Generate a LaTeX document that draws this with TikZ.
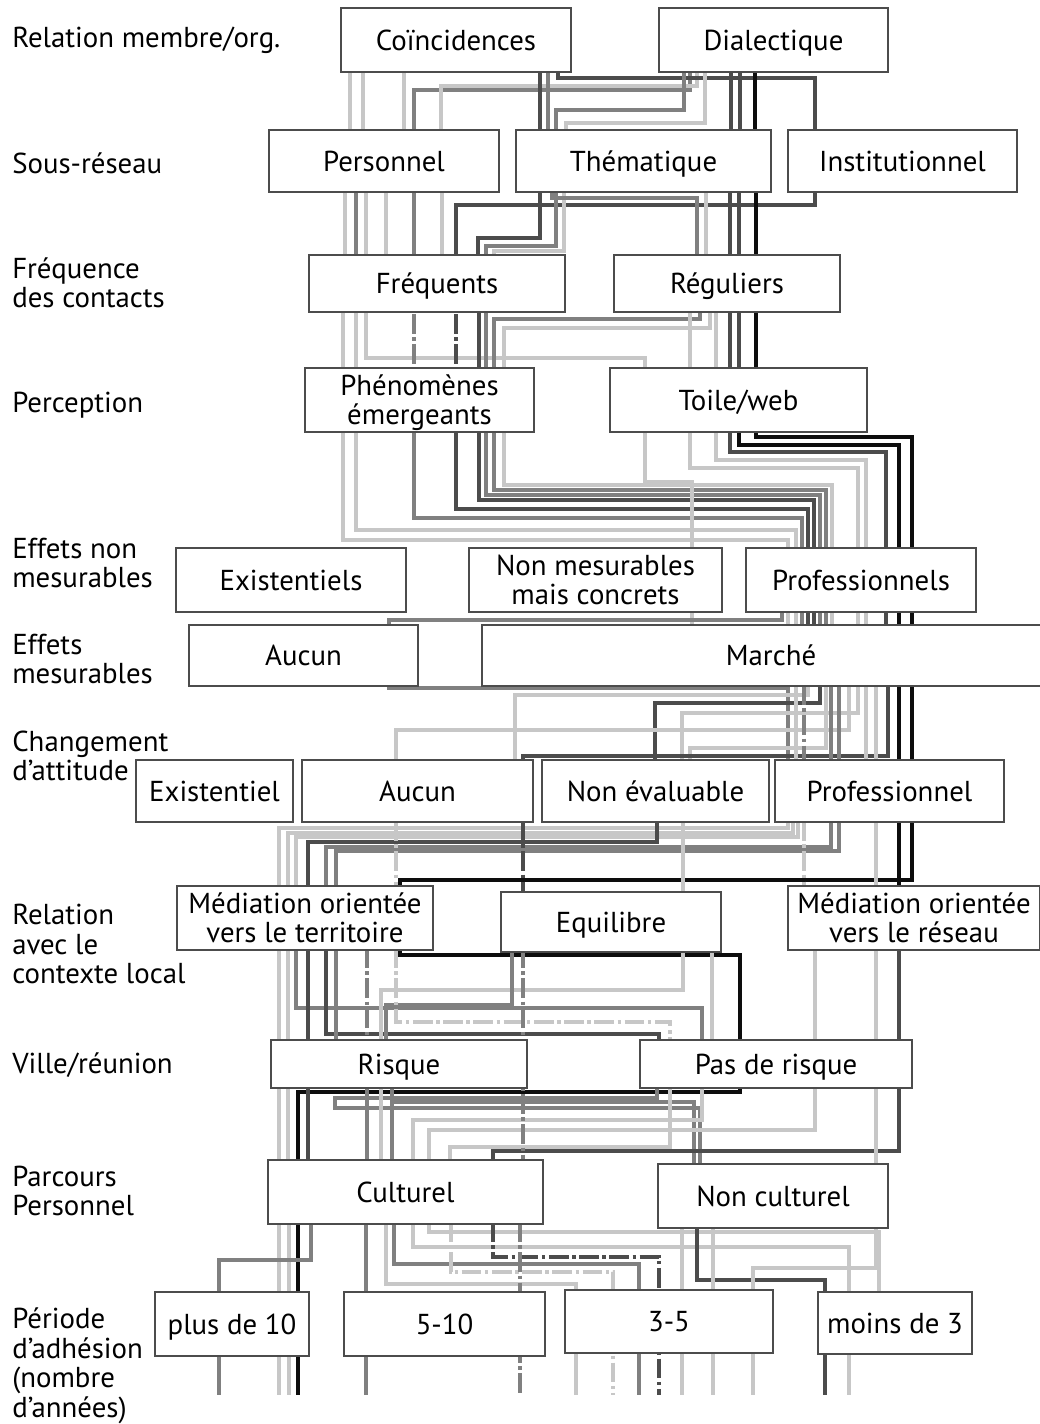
\documentclass[tikz,border=0pt]{standalone}
\usepackage{fontspec}
\setmainfont{PT Sans}
\pgfdeclarelayer{bg}
\pgfdeclarelayer{lines}
\pgfsetlayers{bg,lines,main}

\begin{document}
\begin{tikzpicture}[x=0.025cm, y=-0.025cm,
    cat/.style={draw=black!70, line width=0.9pt, fill=white, inner sep=0pt, align=center,
      font=\fontsize{20.5}{21}\selectfont, text height=16.4pt, text depth=2.05pt},
    two/.style={text height=37.4pt},
    lab/.style={anchor=west, align=left, inner sep=0pt, font=\fontsize{20.5}{21}\selectfont},
    lite/.style={draw=black!22, line width=2.4pt},
    midg/.style={draw=black!50, line width=2.4pt},
    dark/.style={draw=black!70, line width=2.6pt},
    blk/.style={draw=black!95, line width=2.6pt},
    brok/.style={dash pattern=on 14pt off 2.5pt on 2.5pt off 2.5pt}]
  \begin{pgfonlayer}{bg}
    \fill[white] (0,0) rectangle (1039,1424);
  \end{pgfonlayer}
  \useasboundingbox (0,0) rectangle (1039,1424);

  % row titles
  \node[lab] (t-rel) at (12,40) {Relation membre/org.};
  \node[lab] (t-sous) at (12,163) {Sous-réseau};
  \node[lab] (t-freq) at (12,283) {Fréquence\\des contacts};
  \node[lab] (t-perc) at (12,405) {Perception};
  \node[lab] (t-enm) at (12,563) {Effets non\\mesurables};
  \node[lab] (t-em) at (12,659) {Effets\\mesurables};
  \node[lab] (t-chg) at (12,756) {Changement\\d'attitude};
  \node[lab] (t-ctx) at (12,944) {Relation\\avec le\\contexte local};
  \node[lab] (t-ville) at (12,1065) {Ville/réunion};
  \node[lab] (t-parc) at (12,1191) {Parcours\\Personnel};
  \node[lab] (t-per) at (12,1366) {Période\\d'adhésion\\(nombre\\d'années)};

  % boxes
  \node[cat, minimum width=5.75cm, minimum height=1.6cm] (coinc) at (456,40) {Coïncidences};
  \node[cat, minimum width=5.725cm, minimum height=1.6cm] (dial) at (773.5,40) {Dialectique};
  \node[cat, minimum width=5.75cm, minimum height=1.55cm] (pers) at (384,161) {Personnel};
  \node[cat, minimum width=6.375cm, minimum height=1.55cm] (them) at (643.5,161) {Thématique};
  \node[cat, minimum width=5.725cm, minimum height=1.55cm] (inst) at (902.5,161) {Institutionnel};
  \node[cat, minimum width=6.4cm, minimum height=1.425cm] (freq) at (437,283.5) {Fréquents};
  \node[cat, minimum width=5.65cm, minimum height=1.425cm] (regu) at (727,283.5) {Réguliers};
  \node[cat, two, minimum width=5.725cm, minimum height=1.6cm] (phen) at (419.5,400) {Phénomènes\\émergeants};
  \node[cat, minimum width=6.425cm, minimum height=1.6cm] (toile) at (738.5,400) {Toile/web};
  \node[cat, minimum width=5.75cm, minimum height=1.6cm] (exis) at (291,580) {Existentiels};
  \node[cat, two, minimum width=6.325cm, minimum height=1.6cm] (nonmes) at (595.5,580) {Non mesurables\\mais concrets};
  \node[cat, minimum width=5.75cm, minimum height=1.6cm] (prof) at (861,580) {Professionnels};
  \node[cat, minimum width=5.725cm, minimum height=1.525cm] (aucun) at (303.5,655.5) {Aucun};
  \node[cat, minimum width=14.45cm, minimum height=1.525cm] (marche) at (771,655.5) {Marché};
  \node[cat, minimum width=3.925cm, minimum height=1.55cm] (exist) at (214.5,791) {Existentiel};
  \node[cat, minimum width=5.775cm, minimum height=1.55cm] (aucunb) at (417.5,791) {Aucun};
  \node[cat, minimum width=5.675cm, minimum height=1.55cm] (noneval) at (655.5,791) {Non évaluable};
  \node[cat, minimum width=5.725cm, minimum height=1.55cm] (profl) at (889.5,791) {Professionnel};
  \node[cat, two, minimum width=6.4cm, minimum height=1.6cm] (medter) at (305,918) {Médiation orientée\\vers le territoire};
  \node[cat, minimum width=5.5cm, minimum height=1.5cm] (equil) at (611,922) {Equilibre};
  \node[cat, two, minimum width=6.3cm, minimum height=1.6cm] (medres) at (914,918) {Médiation orientée\\vers le réseau};
  \node[cat, minimum width=6.4cm, minimum height=1.2cm] (risque) at (399,1064) {Risque};
  \node[cat, minimum width=6.8cm, minimum height=1.2cm] (pasrisque) at (776,1064) {Pas de risque};
  \node[cat, minimum width=6.875cm, minimum height=1.6cm] (cult) at (405.5,1192) {Culturel};
  \node[cat, minimum width=5.75cm, minimum height=1.6cm] (noncult) at (773,1196) {Non culturel};
  \node[cat, minimum width=3.85cm, minimum height=1.6cm] (plus10) at (232,1324) {plus de 10};
  \node[cat, minimum width=5.025cm, minimum height=1.6cm] (p510) at (444.5,1324) {5-10};
  \node[cat, minimum width=5.2cm, minimum height=1.575cm] (p35) at (669,1321.5) {3-5};
  \node[cat, minimum width=3.85cm, minimum height=1.55cm] (moins3) at (895,1323) {moins de 3};

  \begin{pgfonlayer}{lines}
    % relation -> sous-reseau
    \draw[lite] (350,40) -- (350,161);
    \draw[lite] (363,40) -- (363,161);
    \draw[lite] (404,40) -- (404,161);
    \draw[midg] (690,40) |- (414,90) -- (414,161);
    \draw[lite] (697,40) |- (441,86) -- (441,161);
    \draw[dark] (540,40) -- (540,161);
    \draw[midg] (548,40) -- (548,161);
    \draw[dark] (558,40) |- (815,78) -- (815,161);
    \draw[midg] (684,40) |- (556,110) -- (556,161);
    \draw[lite] (705,40) |- (566,123) -- (566,161);
    \draw[dark] (731,40) -- (731,161);
    \draw[dark] (740,40) -- (740,161);
    \draw[blk] (755,40) -- (755,161);
    % sous-reseau -> frequence
    \draw[lite] (345,161) -- (345,284);
    \draw[midg] (356,161) -- (356,284);
    \draw[lite] (366,161) -- (366,284);
    \draw[lite] (386,161) -- (386,284);
    \draw[midg] (414,161) -- (414,284);
    \draw[lite] (442,161) -- (442,284);
    \draw[dark] (815,161) |- (456,205) -- (456,284);
    \draw[dark] (540,161) |- (478,238) -- (478,284);
    \draw[midg] (556,161) |- (486,246) -- (486,284);
    \draw[lite] (564,161) |- (494,251) -- (494,284);
    \draw[midg] (552,161) |- (697,198) -- (697,284);
    \draw[lite] (706,161) -- (706,284);
    \draw[dark] (730,161) -- (730,284);
    \draw[dark] (739,161) -- (739,284);
    \draw[blk] (756,161) -- (756,284);
    % frequence -> perception
    \draw[lite] (343,284) -- (343,400);
    \draw[lite] (356,284) -- (356,400);
    \draw[lite] (366,284) |- (645,358) -- (645,400);
    \draw[midg, brok] (414,284) -- (414,400);
    \draw[dark, brok] (456,284) -- (456,400);
    \draw[dark] (479,284) -- (479,400);
    \draw[midg] (486,284) -- (486,400);
    \draw[midg] (700,284) |- (494,319) -- (494,400);
    \draw[lite] (710,284) |- (504,328) -- (504,400);
    \draw[lite] (690,284) -- (690,400);
    \draw[lite] (716,284) -- (716,400);
    \draw[dark] (730,284) -- (730,400);
    \draw[dark] (739,284) -- (739,400);
    \draw[blk] (756,284) -- (756,400);
    % perception -> effets non mesurables -> effets mesurables
    \draw[lite] (343,400) |- (788,540) -- (788,655);
    \draw[lite] (356,400) |- (796,530) -- (796,655);
    \draw[midg] (414,400) |- (802,518) -- (802,655);
    \draw[dark] (456,400) |- (808,509) -- (808,655);
    \draw[dark] (479,400) |- (814,500) -- (814,655);
    \draw[midg] (486,400) |- (820,495) -- (820,655);
    \draw[midg] (494,400) |- (826,490) -- (826,655);
    \draw[lite] (504,400) |- (832,485) -- (832,655);
    \draw[lite] (645,400) |- (692,482) -- (692,655);
    \draw[lite] (690,400) |- (858,468) -- (858,655);
    \draw[lite] (716,400) |- (866,460) -- (866,655);
    \draw[dark] (730,400) |- (886,452) -- (886,655);
    \draw[blk] (739,400) |- (899,445) -- (899,655);
    \draw[blk] (756,400) |- (912,437) -- (912,655);
    \draw[midg] (782,580) |- (389,620) -- (389,655);
    % effets mesurables -> changement d'attitude
    \draw[midg] (389,655) |- (788,688) -- (788,791);
    \draw[lite] (808,655) |- (515,695) -- (515,791);
    \draw[dark] (820,655) |- (655,703) -- (655,791);
    \draw[lite] (858,655) |- (682,713) -- (682,791);
    \draw[lite] (849,655) |- (396,730) -- (396,791);
    \draw[lite] (826,655) |- (690,748) -- (690,791);
    \draw[dark] (888,655) |- (523,756) -- (523,791);
    \draw[lite] (796,655) -- (796,791);
    \draw[midg, brok] (804,655) -- (804,791);
    \draw[midg] (831,655) -- (831,791);
    \draw[midg] (839,655) -- (839,791);
    \draw[lite] (866,655) -- (866,791);
    \draw[lite] (876,655) -- (876,791);
    \draw[blk] (899,655) -- (899,791);
    \draw[blk] (912,655) -- (912,791);
    % changement d'attitude -> contexte local
    \draw[lite] (788,791) |- (279,828) -- (279,918);
    \draw[lite] (793,791) |- (288,833) -- (288,918);
    \draw[lite] (798,791) |- (296,837) -- (296,918);
    \draw[dark] (657,791) |- (308,842) -- (308,918);
    \draw[midg] (831,791) |- (326,847) -- (326,918);
    \draw[midg] (839,791) |- (336,851) -- (336,918);
    \draw[blk] (912,791) |- (400,880) -- (400,918);
    \draw[blk] (899,791) -- (899,918);
    \draw[lite, brok] (396,791) -- (396,918);
    \draw[dark, brok] (523,791) -- (523,918);
    \draw[lite] (683,791) -- (683,918);
    \draw[lite, brok] (804,791) -- (804,918);
    \draw[lite] (876,791) -- (876,918);
    % contexte local -> ville/reunion
    \draw[blk] (400,918) |- (740,955) -- (740,1064);
    \draw[lite] (279,918) -- (279,1064);
    \draw[lite] (288,918) -- (288,1064);
    \draw[midg] (296,918) |- (702,1008) -- (702,1064);
    \draw[dark] (308,918) -- (308,1064);
    \draw[dark] (326,918) |- (659,1034) -- (659,1064);
    \draw[midg] (336,918) -- (336,1064);
    \draw[midg, brok] (367,918) -- (367,1064);
    \draw[lite] (683,918) |- (381,990) -- (381,1064);
    \draw[midg] (512,918) |- (386,1005) -- (386,1064);
    \draw[lite, brok] (396,918) |- (670,1022) -- (670,1064);
    \draw[midg, brok] (523,918) -- (523,1064);
    \draw[lite] (712,918) -- (712,1064);
    \draw[lite] (815,918) -- (815,1064);
    \draw[lite] (876,918) -- (876,1064);
    \draw[dark] (899,918) -- (899,1064);
    % ville/reunion -> parcours
    \draw[blk] (740,1064) |- (298,1092) -- (298,1192);
    \draw[lite] (279,1064) -- (279,1192);
    \draw[lite] (288,1064) -- (288,1192);
    \draw[dark] (308,1064) -- (308,1192);
    \draw[midg] (657,1064) |- (335,1098) |- (700,1108) -- (700,1192);
    \draw[midg] (392,1064) |- (694,1102) -- (694,1192);
    \draw[midg] (392,1064) -- (392,1192);
    \draw[midg] (367,1064) -- (367,1192);
    \draw[lite] (381,1064) -- (381,1192);
    \draw[lite] (702,1064) |- (413,1120) -- (413,1192);
    \draw[lite] (815,1064) |- (429,1130) -- (429,1192);
    \draw[lite] (670,1064) |- (450,1147) -- (450,1192);
    \draw[dark] (899,1064) |- (493,1151) -- (493,1192);
    \draw[midg, brok] (523,1064) -- (523,1192);
    \draw[lite] (876,1064) -- (876,1192);
    % parcours -> periode d'adhesion
    \draw[lite] (279,1192) -- (279,1395);
    \draw[lite] (289,1192) -- (289,1395);
    \draw[blk] (298,1192) -- (298,1395);
    \draw[midg] (311,1192) |- (219,1260) -- (219,1395);
    \draw[midg] (366,1192) -- (366,1395);
    \draw[lite] (386,1192) |- (576,1284) -- (576,1395);
    \draw[midg] (394,1192) |- (639,1264) -- (639,1395);
    \draw[lite] (413,1192) |- (849,1247) -- (849,1395);
    \draw[lite] (429,1192) |- (879,1232) -- (879,1323);
    \draw[lite, brok] (451,1192) |- (613,1272) -- (613,1395);
    \draw[dark, brok] (493,1192) |- (659,1257) -- (659,1395);
    \draw[midg, brok] (520,1192) -- (520,1395);
    \draw[dark] (697,1192) |- (825,1280) -- (825,1395);
    \draw[lite] (682,1192) -- (682,1395);
    \draw[lite] (713,1192) -- (713,1395);
    \draw[lite] (876,1192) |- (753,1268) -- (753,1395);
  \end{pgfonlayer}
\end{tikzpicture}
\end{document}
